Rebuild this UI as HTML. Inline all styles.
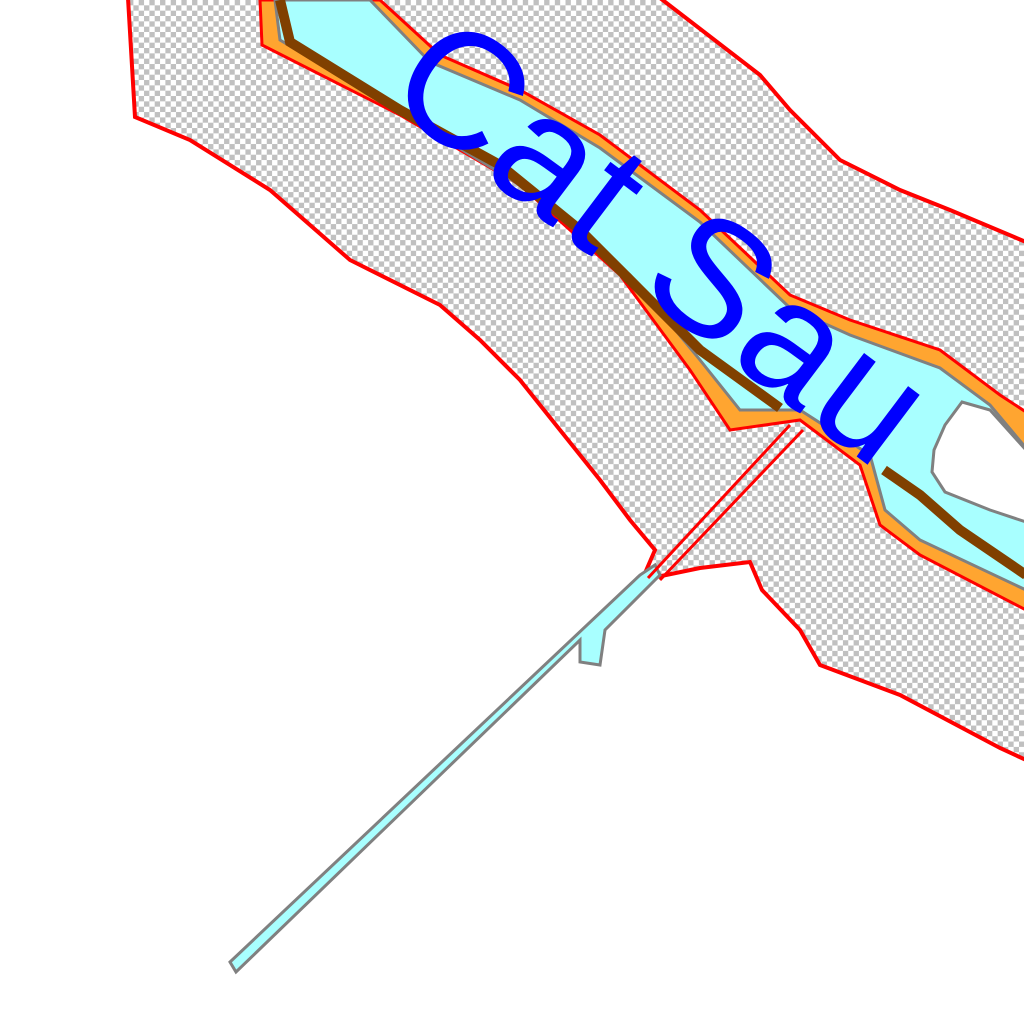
<!DOCTYPE html>
<html><head><meta charset="utf-8"><style>html,body{margin:0;padding:0;background:#fff}svg{display:block}</style></head>
<body>
<svg width="1024" height="1024" viewBox="0 0 1024 1024">
<defs>
<pattern id="chk" width="10.67" height="10.67" patternUnits="userSpaceOnUse">
<rect width="10.67" height="10.67" fill="#fff"/>
<rect width="5.33" height="5.33" fill="#c0c0c0"/>
<rect x="5.33" y="5.33" width="5.33" height="5.33" fill="#c0c0c0"/>
</pattern>
</defs>
<rect width="1024" height="1024" fill="#fff"/>
<polygon fill="url(#chk)" stroke="#ff0000" stroke-width="4"
points="128,-2 135,117 190,140 270,190 350,260 440,305 480,340 520,380 560,430 600,480 630,520 655,550 642,580 700,568 750,562 762,590 800,630 820,665 900,695 1000,748 1026,760 1026,242 950,210 900,190 840,160 790,110 760,75 660,-2"/>
<polygon fill="#ffa530" stroke="#ff0000" stroke-width="3"
points="260,0 380,0 440,55 520,90 600,135 700,210 790,295 850,320 940,350 1000,395 1026,412 1026,610 920,555 880,525 860,465 800,420 730,430 690,370 620,275 520,185 400,115 262,45"/>
<polygon fill="#a8ffff" stroke="#808080" stroke-width="3"
points="275,0 370,0 430,62 520,100 600,148 700,222 790,308 850,335 940,368 990,405 1026,448 1026,590 920,540 885,510 870,455 800,410 740,410 700,360 630,275 520,185 400,112 280,40"/>
<polygon fill="#ffffff" stroke="#808080" stroke-width="3"
points="962,402 945,425 934,450 932,472 945,492 990,510 1026,522 1026,450 990,410"/>
<polyline fill="none" stroke="#804000" stroke-width="10"
points="280,0 290,42 400,110 500,165 580,230 640,290 700,350 780,408"/>
<polyline fill="none" stroke="#804000" stroke-width="10"
points="884,470 920,495 960,530 1026,575"/>
<polygon fill="#a8ffff" stroke="#808080" stroke-width="3"
points="230,962 640,575 655,565 660,575 605,630 600,665 580,662 580,640 236,972"/>
<polyline fill="none" stroke="#ff0000" stroke-width="3" points="648,578 790,425"/>
<polyline fill="none" stroke="#ff0000" stroke-width="3" points="660,580 803,430"/>
<text x="0" y="0" transform="translate(655,250) rotate(37)" text-anchor="middle" dominant-baseline="middle" font-family="Liberation Sans, sans-serif" font-size="165" fill="#0000ff" textLength="620" lengthAdjust="spacing">Cat Sau</text>
</svg>
</body></html>
